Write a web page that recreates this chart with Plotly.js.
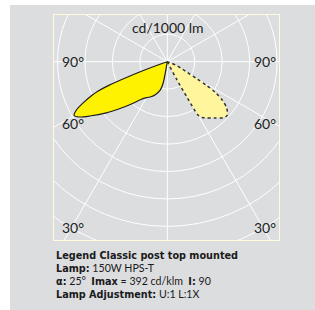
<!DOCTYPE html>
<html>
<head>
<meta charset="utf-8">
<script src="https://cdn.plot.ly/plotly-3.0.1.min.js"></script>
<style>html,body{margin:0;padding:0;background:#fff;}#chart{width:315px;height:310px;}</style>
</head>
<body>
<div id="chart"></div>
<script>
// Intensity (cd/1000 lm) versus angle from nadir (degrees)
const anglesSolid = [0, 9, 10, 11, 14, 20, 25, 30, 35, 40, 45, 50, 55, 58, 60, 62, 64, 66, 67, 68, 69, 70, 71, 72, 90];
const valuesSolid = [0, 0, 40, 80, 107, 128, 141, 151, 168, 200, 240, 290, 345, 380, 392, 375, 340, 300, 275, 230, 150, 65, 20, 0, 0];
const anglesDotted = [0, 27, 28, 29, 30, 32, 35, 40, 45, 48, 52, 55, 57.5, 59, 60, 62, 64, 68, 72, 75, 90];
const valuesDotted = [0, 0, 70, 150, 225, 240, 250, 268, 289, 293, 275, 245, 206, 167, 123, 80, 60, 35, 12, 0, 0];
const ringValues = [100, 200, 300, 400, 500, 600, 700, 800];
const spokeAngles = [0, 30, 60, 90, 120, 150, 180, 210, 240, 270, 300, 330];
const angleLabels = ['90°', '60°', '30°'];
const unitLabel = 'cd/1000 lm';
const B = t => '<span style="font-family:\'DejaVu Sans\';font-size:9.7px"><b>' + t + '</b></span>';
const N = t => '<span style="font-size:10.6px">' + t + '</span>';
const infoLines = [
  B('Legend Classic post top mounted'),
  B('Lamp:') + N(' 150W HPS-T'),
  B('α:') + N(' 25°  ') + B('Imax') + N(' = 392 cd/klm  ') + B('I:') + N(' 90'),
  B('Lamp Adjustment:') + N(' U:1 L:1X')
];

const rad = d => d * Math.PI / 180;
function toXY(angles, vals, side) {
  return {
    x: angles.map((a, i) => side * vals[i] * Math.sin(rad(a))),
    y: angles.map((a, i) => -vals[i] * Math.cos(rad(a)))
  };
}
const L = toXY(anglesSolid, valuesSolid, -1);
const R = toXY(anglesDotted, valuesDotted, 1);

const W = 315, H = 310, ml = 54, mr = 36, mt = 15, mb = 70;
const pw = W - ml - mr, ph = H - mt - mb;
const px = x => (x - ml) / pw;
const py = y => (H - mb - y) / ph;

const shapes = [];
shapes.push({type: 'rect', xref: 'paper', yref: 'paper', x0: px(10), x1: px(318), y0: py(313), y1: py(5),
  fillcolor: '#dcdddf', line: {width: 0}, layer: 'below'});
ringValues.forEach(r => shapes.push({type: 'circle', xref: 'x', yref: 'y', x0: -r, x1: r, y0: -r, y1: r,
  line: {color: '#ffffff', width: 1}, layer: 'below'}));
spokeAngles.forEach(a => shapes.push({type: 'line', xref: 'x', yref: 'y', x0: 0, y0: 0,
  x1: 1200 * Math.sin(rad(a)), y1: -1200 * Math.cos(rad(a)), line: {color: '#ffffff', width: 1}, layer: 'below'}));

const lblFont = {family: 'Lato, sans-serif', size: 14, color: '#222'};
const ann = [];
ann.push({xref: 'paper', yref: 'paper', x: px(167.5), y: py(27), text: unitLabel, showarrow: false, font: lblFont, xanchor: 'center', yanchor: 'middle'});
const labelY = [61, 123, 227];
angleLabels.forEach((t, i) => {
  ann.push({xref: 'paper', yref: 'paper', x: px(60), y: py(labelY[i]), text: t, showarrow: false, font: lblFont, xanchor: 'left', yanchor: 'middle'});
  ann.push({xref: 'paper', yref: 'paper', x: px(278), y: py(labelY[i]), text: t, showarrow: false, font: lblFont, xanchor: 'right', yanchor: 'middle'});
});
ann.push({xref: 'paper', yref: 'paper', x: px(54), y: py(274.5), text: infoLines.join('<br>'), showarrow: false, align: 'left',
  font: {family: 'Lato, sans-serif', size: 10, color: '#1a1a1a'}, xanchor: 'left', yanchor: 'middle'});

const cx = 167.3, cy = 61.7, s = 0.2745;
const data = [
  {type: 'scatter', mode: 'lines', x: L.x, y: L.y, fill: 'toself', fillcolor: '#fff200',
    line: {color: '#1e1e1e', width: 1.2, shape: 'spline', smoothing: 0.8}, hoverinfo: 'skip'},
  {type: 'scatter', mode: 'lines', x: R.x, y: R.y, fill: 'toself', fillcolor: '#fff59c',
    line: {color: '#333333', width: 1.5, dash: 'dot', shape: 'spline', smoothing: 0.8}, hoverinfo: 'skip'}
];
const layout = {
  width: W, height: H, margin: {l: ml, r: mr, t: mt, b: mb, pad: 0},
  paper_bgcolor: '#ffffff', plot_bgcolor: 'rgba(0,0,0,0)', showlegend: false,
  xaxis: {range: [-(cx - ml) / s, (ml + pw - cx) / s], showgrid: false, zeroline: false, showticklabels: false, ticks: '',
    showline: true, mirror: true, linecolor: '#fffbdc', linewidth: 1, fixedrange: true},
  yaxis: {range: [-(mt + ph - cy) / s, (cy - mt) / s], showgrid: false, zeroline: false, showticklabels: false, ticks: '',
    showline: true, mirror: true, linecolor: '#fffbdc', linewidth: 1, fixedrange: true},
  shapes: shapes, annotations: ann
};
Plotly.newPlot('chart', data, layout, {staticPlot: true, displayModeBar: false});
</script>
</body>
</html>
